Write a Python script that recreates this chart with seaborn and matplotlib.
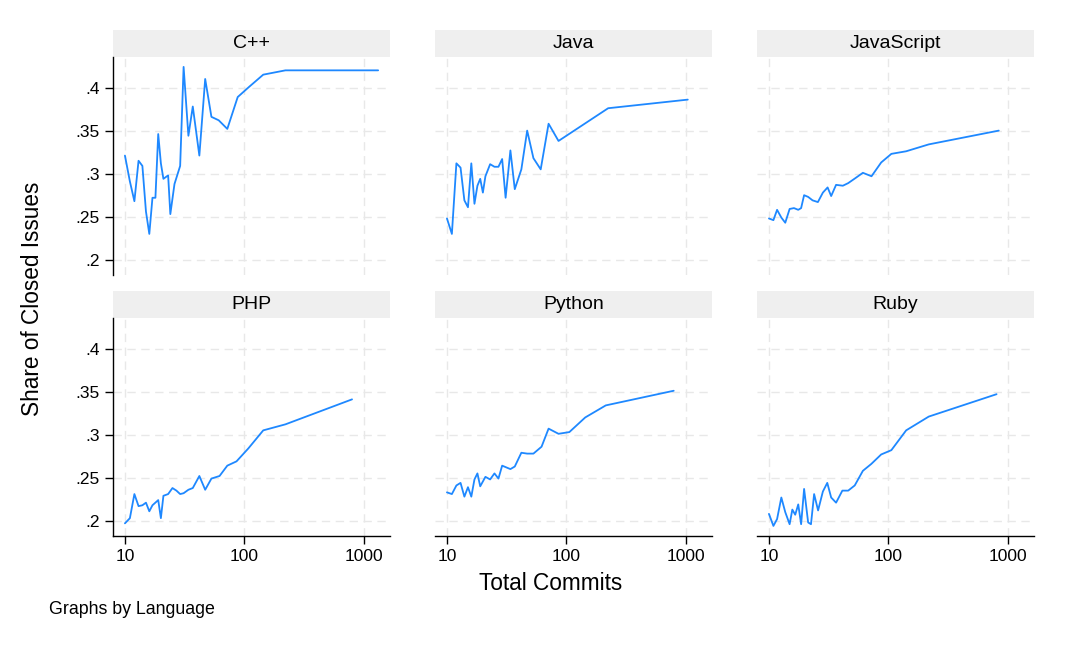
import matplotlib
matplotlib.use("Agg")
import matplotlib.pyplot as plt
from matplotlib.patches import Rectangle
import seaborn as sns
import pandas as pd

languages = ["C++", "Java", "JavaScript", "PHP", "Python", "Ruby"]

cpp_commits = [10, 11, 12, 13, 14, 15, 16, 17, 18, 19, 20, 21, 23, 24, 26, 29, 31, 34, 37, 42, 47, 53, 61, 72, 88, 110, 144, 221, 1320]
cpp_share = [0.321, 0.291, 0.268, 0.315, 0.309, 0.256, 0.230, 0.272, 0.272, 0.346, 0.312, 0.294, 0.298, 0.253, 0.288, 0.309, 0.424, 0.344, 0.378, 0.321, 0.410, 0.366, 0.362, 0.352, 0.389, 0.401, 0.415, 0.420, 0.420]

java_commits = [10, 11, 12, 13, 14, 15, 16, 17, 18, 19, 20, 21, 23, 25, 27, 29, 31, 34, 37, 42, 47, 53, 61, 71, 86, 224, 1040]
java_share = [0.248, 0.230, 0.312, 0.307, 0.269, 0.261, 0.312, 0.265, 0.286, 0.294, 0.278, 0.297, 0.311, 0.308, 0.308, 0.317, 0.272, 0.327, 0.282, 0.305, 0.350, 0.318, 0.305, 0.358, 0.338, 0.376, 0.386]

js_commits = [10, 10.9, 11.7, 12.7, 13.7, 14.9, 16.2, 17.6, 18.6, 19.7, 21.3, 23.2, 25.7, 28.3, 31, 33.2, 36.5, 41.6, 46.1, 53.2, 61.2, 72.3, 87.1, 106, 141, 218, 841]
js_share = [0.248, 0.246, 0.258, 0.249, 0.243, 0.259, 0.260, 0.258, 0.260, 0.275, 0.273, 0.269, 0.267, 0.278, 0.284, 0.274, 0.287, 0.286, 0.289, 0.295, 0.301, 0.297, 0.313, 0.323, 0.326, 0.334, 0.350]

php_commits = [10, 11, 12, 13, 14, 15, 16, 17, 19, 20, 21, 23, 25, 27, 29, 31, 34, 37, 42, 47, 53, 62, 72, 86, 108, 144, 221, 798]
php_share = [0.197, 0.203, 0.231, 0.217, 0.218, 0.221, 0.211, 0.218, 0.224, 0.203, 0.229, 0.231, 0.238, 0.235, 0.231, 0.232, 0.236, 0.238, 0.252, 0.236, 0.249, 0.252, 0.264, 0.269, 0.284, 0.305, 0.312, 0.341]

py_commits = [10, 11, 12, 13, 14, 15, 16, 17, 18, 19, 21, 23, 25, 27, 29, 34, 37, 42, 47, 53, 62, 71, 86, 106, 144, 214, 793]
py_share = [0.233, 0.231, 0.241, 0.244, 0.228, 0.239, 0.228, 0.248, 0.255, 0.240, 0.251, 0.248, 0.255, 0.249, 0.264, 0.260, 0.263, 0.279, 0.278, 0.278, 0.286, 0.307, 0.301, 0.303, 0.320, 0.334, 0.351]

rb_commits = [10, 10.9, 11.7, 12.7, 13.7, 14.9, 15.7, 16.6, 17.6, 18.6, 19.7, 21.3, 22.5, 23.9, 25.8, 28.3, 30.8, 33.2, 36.5, 41.2, 46.1, 52.3, 61.2, 72, 87.1, 106, 141, 218, 806]
rb_share = [0.208, 0.194, 0.202, 0.227, 0.210, 0.196, 0.213, 0.207, 0.219, 0.196, 0.237, 0.198, 0.196, 0.231, 0.212, 0.234, 0.244, 0.227, 0.221, 0.235, 0.235, 0.241, 0.258, 0.266, 0.277, 0.282, 0.305, 0.321, 0.347]

y_ticks = [0.2, 0.25, 0.3, 0.35, 0.4]
y_tick_labels = [".2", ".25", ".3", ".35", ".4"]
x_ticks = [10, 100, 1000]
x_tick_labels = ["10", "100", "1000"]

series = {
    "C++": (cpp_commits, cpp_share),
    "Java": (java_commits, java_share),
    "JavaScript": (js_commits, js_share),
    "PHP": (php_commits, php_share),
    "Python": (py_commits, py_share),
    "Ruby": (rb_commits, rb_share),
}

frames = []
for lang in languages:
    c, s = series[lang]
    frames.append(pd.DataFrame({"Language": lang, "commits": c, "share": s}))
df = pd.concat(frames, ignore_index=True)

sns.set_theme(style="white")
plt.rcParams["font.family"] = ["Liberation Sans", "DejaVu Sans"]
plt.rcParams["text.color"] = "black"

W, H = 1080, 648
fig = plt.figure(figsize=(10.8, 6.48), dpi=100)

col_left = [113, 435, 757]
col_w = 277
row_top = [57, 318]
row_h = 218
strip_h = 27
line_color = "#1e88ff"
grid_color = "#e8e8e8"

for i, lang in enumerate(languages):
    r, c = divmod(i, 3)
    left = col_left[c] / W
    bottom = 1 - (row_top[r] + row_h) / H
    ax = fig.add_axes([left, bottom, col_w / W, row_h / H])
    sub = df[df["Language"] == lang]
    ax.set_xscale("log")
    sns.lineplot(data=sub, x="commits", y="share", ax=ax, color=line_color,
                 linewidth=1.3, estimator=None, sort=False)
    ax.set_xlim(10 ** 0.9, 10 ** 3.22)
    ax.set_ylim(0.1823, 0.4355)
    ax.set_xticks(x_ticks)
    ax.set_xticks([], minor=True)
    ax.set_yticks(y_ticks)
    for yt in y_ticks:
        ax.axhline(yt, color=grid_color, lw=1.0, ls=(0, (6, 4)), zorder=0)
    for xt in x_ticks:
        ax.axvline(xt, color=grid_color, lw=1.0, ls=(0, (6, 4)), zorder=0)
    ax.grid(False)
    ax.set_xlabel("")
    ax.set_ylabel("")
    for sp in ["top", "right"]:
        ax.spines[sp].set_visible(False)
    ax.spines["left"].set_visible(c == 0)
    ax.spines["bottom"].set_visible(r == 1)
    for sp in ["left", "bottom"]:
        ax.spines[sp].set_color("black")
        ax.spines[sp].set_linewidth(1.0)
    if c == 0:
        ax.set_yticklabels(y_tick_labels)
        ax.tick_params(axis="y", which="major", left=True, length=6, width=1,
                       color="black", labelsize=12.5, pad=3.5, labelcolor="black")
    else:
        ax.tick_params(axis="y", left=False, labelleft=False)
    if r == 1:
        ax.set_xticklabels(x_tick_labels)
        ax.tick_params(axis="x", which="major", bottom=True, length=6, width=1,
                       color="black", labelsize=12.5, pad=3.5, labelcolor="black")
    else:
        ax.tick_params(axis="x", bottom=False, labelbottom=False)
    ax.tick_params(axis="x", which="minor", bottom=False)
    if ax.get_legend() is not None:
        ax.get_legend().remove()
    # strip header
    sh = strip_h / row_h
    ax.add_patch(Rectangle((0, 1), 1, sh, transform=ax.transAxes,
                           facecolor="#efefef", edgecolor="none", clip_on=False))
    ax.text(0.5, 1 + sh / 2, lang, transform=ax.transAxes, ha="center",
            va="center", fontsize=14, color="black")

fig.text(33 / W, 1 - 299 / H, "Share of Closed Issues", rotation=90,
         ha="center", va="center", fontsize=16.3, color="black")
fig.text(551 / W, 1 - 584 / H, "Total Commits", ha="center", va="center",
         fontsize=16.3, color="black")
fig.text(49 / W, 1 - 609 / H, "Graphs by Language", ha="left", va="center",
         fontsize=12.8, color="black")

fig.savefig("out.png", dpi=100, facecolor="white")
